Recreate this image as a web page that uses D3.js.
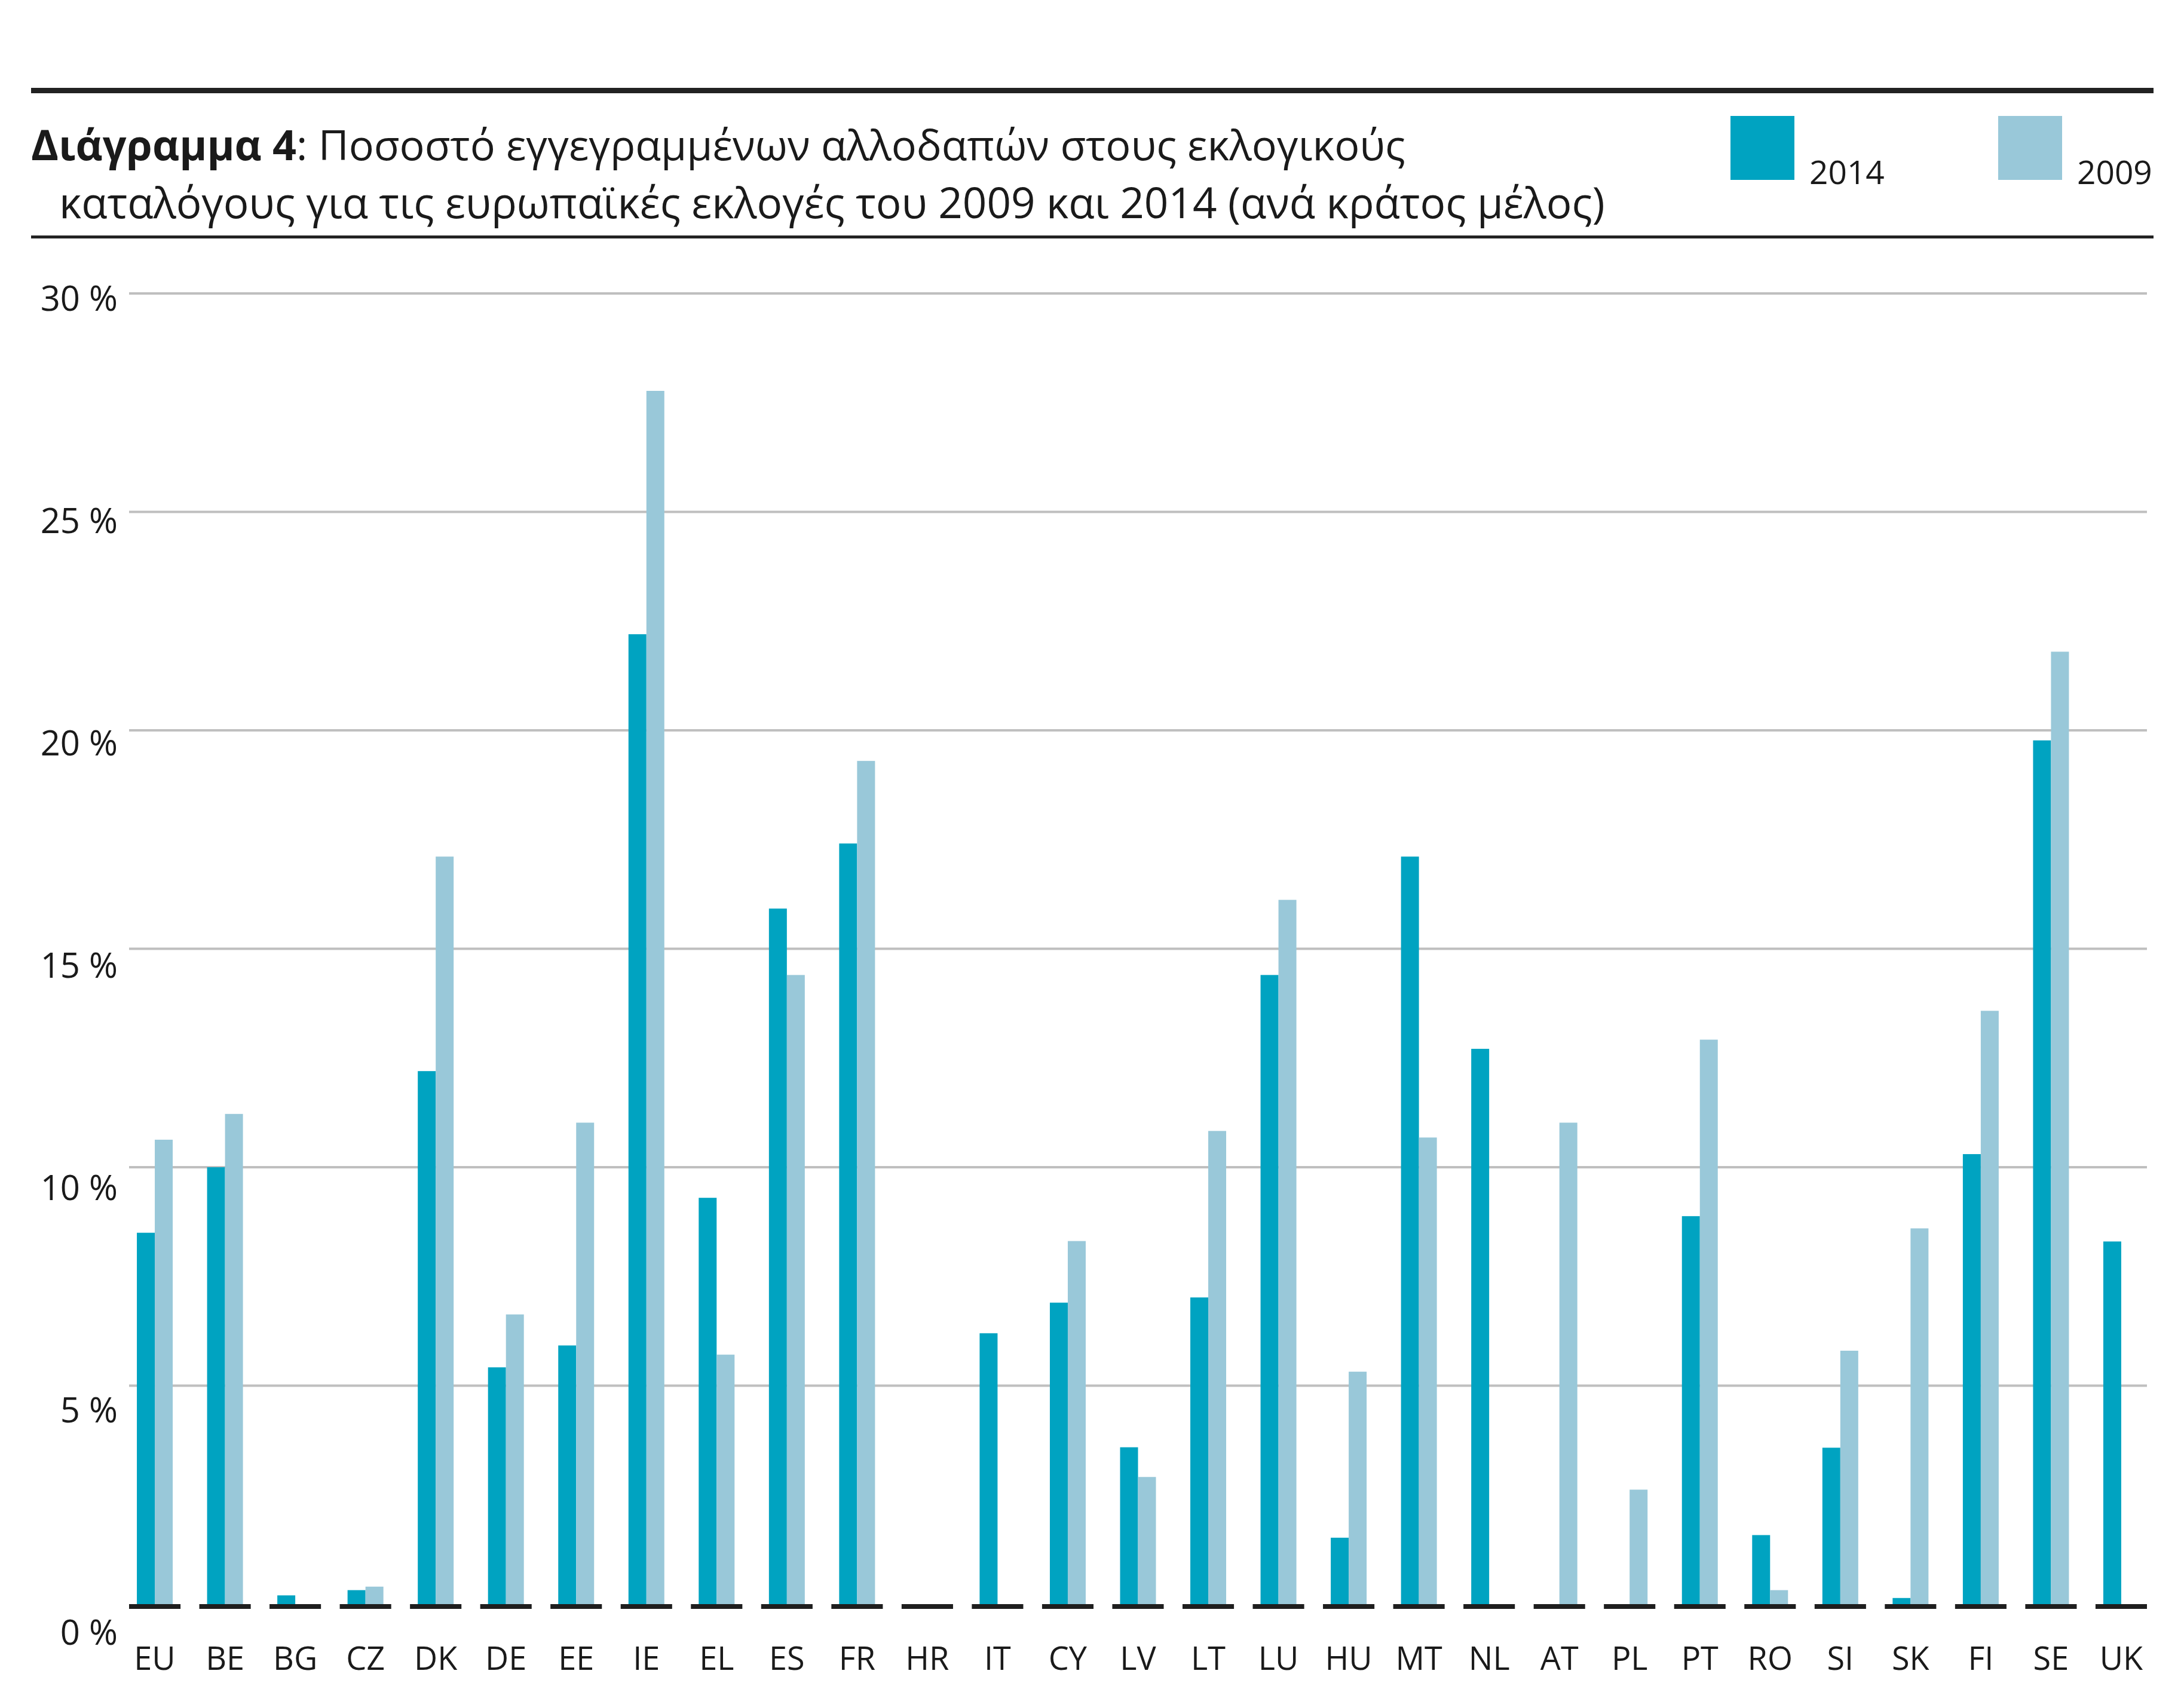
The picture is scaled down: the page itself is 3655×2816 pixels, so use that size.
<!DOCTYPE html>
<html>
<head>
<meta charset="utf-8">
<script src="https://cdn.jsdelivr.net/npm/d3@7"></script>
<style>
  body { margin: 0; background: #fff; }
  text { font-family: "Open Sans", "Noto Sans", sans-serif; fill: #1a1a1a; }
</style>
</head>
<body>
<div id="chart"></div>
<script>
const countries = ["EU", "BE", "BG", "CZ", "DK", "DE", "EE", "IE", "EL", "ES", "FR", "HR", "IT", "CY", "LV",
    "LT", "LU", "HU", "MT", "NL", "AT", "PL", "PT", "RO", "SI", "SK", "FI", "SE", "UK"];
const values2014 = [8.5, 10.0, 0.2, 0.32, 12.2, 5.42, 5.92, 22.2, 9.3, 15.92, 17.41, 0, 6.2, 6.9, 3.59,
    7.02, 14.4, 1.52, 17.11, 12.71, 0, 0, 8.88, 1.58, 3.58, 0.14, 10.3, 19.77, 8.3];
const values2009 = [10.63, 11.22, 0, 0.4, 17.11, 6.63, 11.02, 27.77, 5.71, 14.4, 19.3, 0, 0, 8.31, 2.91,
    10.83, 16.12, 5.32, 10.68, 0, 11.02, 2.62, 12.92, 0.32, 5.8, 8.6, 13.58, 21.8, 0];
const seriesNames = ["2014", "2009"];
const yTicks = [0, 5, 10, 15, 20, 25, 30];

const width = 3655, height = 2816;
const colors = { "2014": "#00a3c1", "2009": "#99c8d9" };

const svg = d3.select("#chart").append("svg")
    .attr("width", width)
    .attr("height", height);

// header rules
svg.append("line").attr("x1", 52).attr("x2", 3604).attr("y1", 151.5).attr("y2", 151.5)
    .attr("stroke", "#222").attr("stroke-width", 9);
svg.append("line").attr("x1", 52).attr("x2", 3604).attr("y1", 396.5).attr("y2", 396.5)
    .attr("stroke", "#222").attr("stroke-width", 5);

// title
const title = svg.append("text").attr("x", 52).attr("y", 268).style("font-size", "70px");
title.append("tspan").attr("font-weight", 700).text("Διάγραμμα 4");
title.append("tspan").text(": Ποσοστό εγγεγραμμένων αλλοδαπών στους εκλογικούς");
svg.append("text").attr("x", 99).attr("y", 365).style("font-size", "71px")
    .text("καταλόγους για τις ευρωπαϊκές εκλογές του 2009 και 2014 (ανά κράτος μέλος)");

// legend
const legendX = { "2014": 2896, "2009": 3344 };
const legend = svg.selectAll(".legend").data(seriesNames).enter()
    .append("g").attr("class", "legend")
    .attr("transform", d => `translate(${legendX[d]},194)`);
legend.append("rect").attr("width", 107).attr("height", 107).attr("fill", d => colors[d]);
legend.append("text").attr("x", 132).attr("y", 114).style("font-size", "55px").text(d => d);

// scales
const x = d3.scaleBand().domain(countries).range([216, 3593])
    .paddingInner(0.2675).paddingOuter(0);
const barW = 30;
const xSub = d3.scaleBand().domain(seriesNames)
    .range([x.bandwidth() / 2 - barW, x.bandwidth() / 2 + barW]);
const y = d3.scaleLinear().domain([0, 30]).range([2684, 491]);
const yLabel = d3.scaleLinear().domain([0, 30]).range([2752, 520]);

// gridlines
svg.append("g").selectAll("line").data(yTicks.filter(d => d > 0)).enter()
    .append("line")
    .attr("x1", 216).attr("x2", 3593)
    .attr("y1", d => y(d)).attr("y2", d => y(d))
    .attr("stroke", "#bfbfbf").attr("stroke-width", 4);

// y labels
svg.append("g").selectAll("text").data(yTicks).enter()
    .append("text")
    .attr("x", 197).attr("y", d => yLabel(d))
    .attr("text-anchor", "end")
    .style("font-size", "58px")
    .text(d => d + " %");

// bars
const rows = countries.map((c, i) => ({ country: c, "2014": values2014[i], "2009": values2009[i] }));
const groups = svg.append("g").selectAll("g").data(rows).enter()
    .append("g")
    .attr("transform", d => `translate(${x(d.country)},0)`);

groups.selectAll("rect").data(d => seriesNames.map(s => ({ key: s, value: d[s] }))).enter()
    .append("rect")
    .attr("x", d => xSub(d.key))
    .attr("width", xSub.bandwidth())
    .attr("y", d => y(d.value))
    .attr("height", d => y(0) - y(d.value))
    .attr("fill", d => colors[d.key]);

// baseline segments
groups.append("rect")
    .attr("x", 0).attr("y", y(0))
    .attr("width", x.bandwidth()).attr("height", 8)
    .attr("fill", "#1e1e1e");

// x labels
groups.append("text")
    .attr("x", x.bandwidth() / 2).attr("y", 2794)
    .attr("text-anchor", "middle")
    .style("font-size", "54px")
    .text(d => d.country);
</script>
</body>
</html>
